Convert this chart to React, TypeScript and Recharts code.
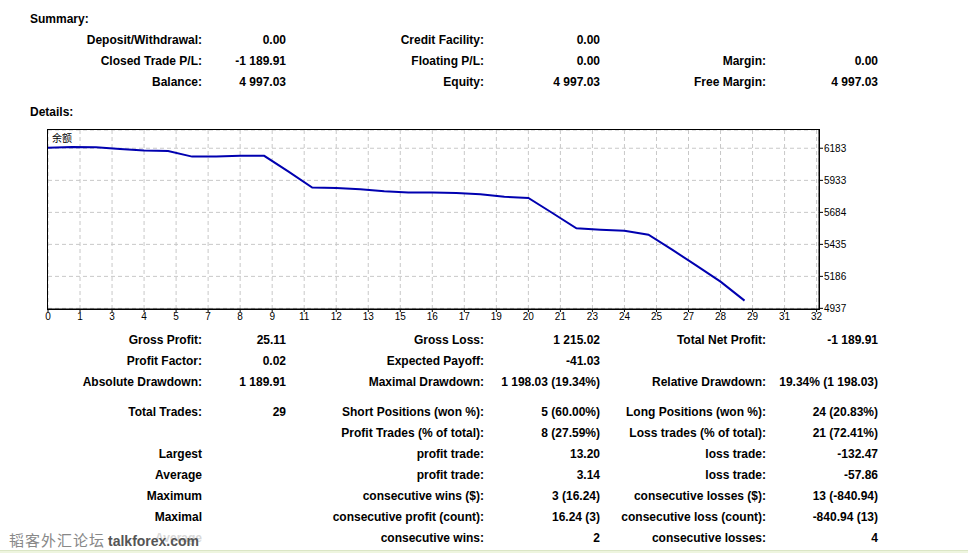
import { LineChart, Line, XAxis, YAxis, CartesianGrid } from "recharts";

// balance after each closed trade (trade 0 = start)
const balance = [
  6187, 6193, 6191, 6178, 6165, 6162, 6118, 6118, 6124, 6124, 6003, 5877,
  5874, 5864, 5849, 5839, 5838, 5835, 5825, 5805, 5796, 5679, 5560, 5549,
  5541, 5510, 5392, 5269, 5145, 4997,
];

const xTickLabels = [
  0, 1, 3, 4, 5, 7, 8, 9, 11, 12, 13, 15, 16, 17, 19, 20, 21, 23, 24, 25, 27,
  28, 29, 31, 32,
];
const yTicks = [4937, 5186, 5435, 5684, 5933, 6183];

const summaryRows = [
  ["Deposit/Withdrawal:", "0.00", "Credit Facility:", "0.00", "", ""],
  ["Closed Trade P/L:", "-1 189.91", "Floating P/L:", "0.00", "Margin:", "0.00"],
  ["Balance:", "4 997.03", "Equity:", "4 997.03", "Free Margin:", "4 997.03"],
];

const detailRows = [
  ["Gross Profit:", "25.11", "Gross Loss:", "1 215.02", "Total Net Profit:", "-1 189.91"],
  ["Profit Factor:", "0.02", "Expected Payoff:", "-41.03", "", ""],
  ["Absolute Drawdown:", "1 189.91", "Maximal Drawdown:", "1 198.03 (19.34%)", "Relative Drawdown:", "19.34% (1 198.03)"],
  ["Total Trades:", "29", "Short Positions (won %):", "5 (60.00%)", "Long Positions (won %):", "24 (20.83%)"],
  ["", "", "Profit Trades (% of total):", "8 (27.59%)", "Loss trades (% of total):", "21 (72.41%)"],
  ["Largest", "", "profit trade:", "13.20", "loss trade:", "-132.47"],
  ["Average", "", "profit trade:", "3.14", "loss trade:", "-57.86"],
  ["Maximum", "", "consecutive wins ($):", "3 (16.24)", "consecutive losses ($):", "13 (-840.94)"],
  ["Maximal", "", "consecutive profit (count):", "16.24 (3)", "consecutive loss (count):", "-840.94 (13)"],
  ["Average", "", "consecutive wins:", "2", "consecutive losses:", "4"],
];

const summaryY = [40, 61, 82];
const detailY = [340, 361, 382, 412, 433, 454, 475, 496, 517, 538];
const colRight = [202, 286, 484, 600, 766, 878];

const font = '"Liberation Sans", Arial, sans-serif';
const X_MAX = 32.1;
const Y_DOMAIN = [4932, 6325];

const data = balance.map((b, i) => ({ trade: i, balance: b }));
const xTicks = xTickLabels.map((_, i) => (i * 32) / 24);

function Cell({ text, right, cy, faint }: { text: string; right: number; cy: number; faint?: boolean }) {
  if (!text) return null;
  return (
    <span
      style={{
        position: "absolute",
        right: 968 - right,
        top: cy - 7,
        fontSize: 12,
        lineHeight: "14px",
        fontWeight: "bold",
        whiteSpace: "nowrap",
        color: faint ? "#d8d8d8" : "#000",
      }}
    >
      {text}
    </span>
  );
}

function Rows({ rows, ys, faintLast }: { rows: string[][]; ys: number[]; faintLast?: boolean }) {
  return (
    <>
      {rows.map((row, r) =>
        row.map((t, c) => (
          <Cell
            key={r + "-" + c}
            text={t}
            right={colRight[c]}
            cy={ys[r]}
            faint={faintLast && r === rows.length - 1 && c === 0}
          />
        ))
      )}
    </>
  );
}

export default function App() {
  return (
    <div
      style={{
        position: "absolute",
        left: 0,
        top: 0,
        width: 968,
        height: 553,
        background: "#fff",
        fontFamily: font,
        overflow: "hidden",
      }}
    >
      <span style={{ position: "absolute", left: 30, top: 12, fontSize: 12, lineHeight: "14px", fontWeight: "bold" }}>
        Summary:
      </span>
      <Rows rows={summaryRows} ys={summaryY} />
      <span style={{ position: "absolute", left: 30, top: 105, fontSize: 12, lineHeight: "14px", fontWeight: "bold" }}>
        Details:
      </span>

      <div style={{ position: "absolute", left: 0, top: 125 }}>
        <LineChart
          width={870}
          height={210}
          data={data}
          margin={{ top: 5, right: 0, left: 48, bottom: 0 }}
        >
          <CartesianGrid stroke="#c8c8c8" strokeDasharray="4 3" />
          <XAxis
            dataKey="trade"
            type="number"
            domain={[0, X_MAX]}
            ticks={xTicks}
            interval={0}
            tickFormatter={(_v: number, i: number) => String(xTickLabels[i])}
            height={26}
            tickSize={3}
            tickMargin={1}
            stroke="#000"
            axisLine={{ stroke: "#000", strokeWidth: 1 }}
            tick={{ fill: "#000", fontSize: 10, fontFamily: font }}
          />
          <YAxis
            orientation="right"
            type="number"
            domain={Y_DOMAIN}
            ticks={yTicks}
            interval={0}
            width={51}
            tickSize={4}
            tickMargin={1}
            stroke="#000"
            axisLine={{ stroke: "#000" }}
            tick={{ fill: "#000", fontSize: 10, fontFamily: font }}
          />
          <Line
            dataKey="balance"
            type="linear"
            stroke="#0000b0"
            strokeWidth={2}
            dot={false}
            isAnimationActive={false}
          />
        </LineChart>
      </div>
      {/* plot frame */}
      <div
        style={{
          position: "absolute",
          left: 47,
          top: 129,
          width: 773,
          height: 181,
          boxSizing: "border-box",
          border: "1px solid #000",
          pointerEvents: "none",
        }}
      />
      <span
        style={{
          position: "absolute",
          left: 51,
          top: 131,
          fontSize: 10,
          lineHeight: "13px",
          fontFamily: '"Noto Sans CJK SC", sans-serif',
          background: "#fff",
          color: "#000",
          padding: "0 1px",
        }}
      >
        余额
      </span>

      <Rows rows={detailRows} ys={detailY} faintLast />

      <div
        style={{
          position: "absolute",
          left: 9,
          top: 530,
          height: 20,
          lineHeight: "20px",
          whiteSpace: "nowrap",
        }}
      >
        <span style={{ fontFamily: '"Noto Sans CJK SC", serif', fontSize: 15, color: "#888", letterSpacing: 1 }}>
          韬客外汇论坛
        </span>
        <span style={{ fontFamily: font, fontWeight: "bold", fontSize: 14, color: "#555", marginLeft: 3 }}>
          talkforex.com
        </span>
      </div>
      <div
        style={{
          position: "absolute",
          left: 0,
          top: 550,
          width: 968,
          height: 3,
          background: "#eef5df",
          borderTop: "1px solid #dbe6c6",
        }}
      />
    </div>
  );
}
